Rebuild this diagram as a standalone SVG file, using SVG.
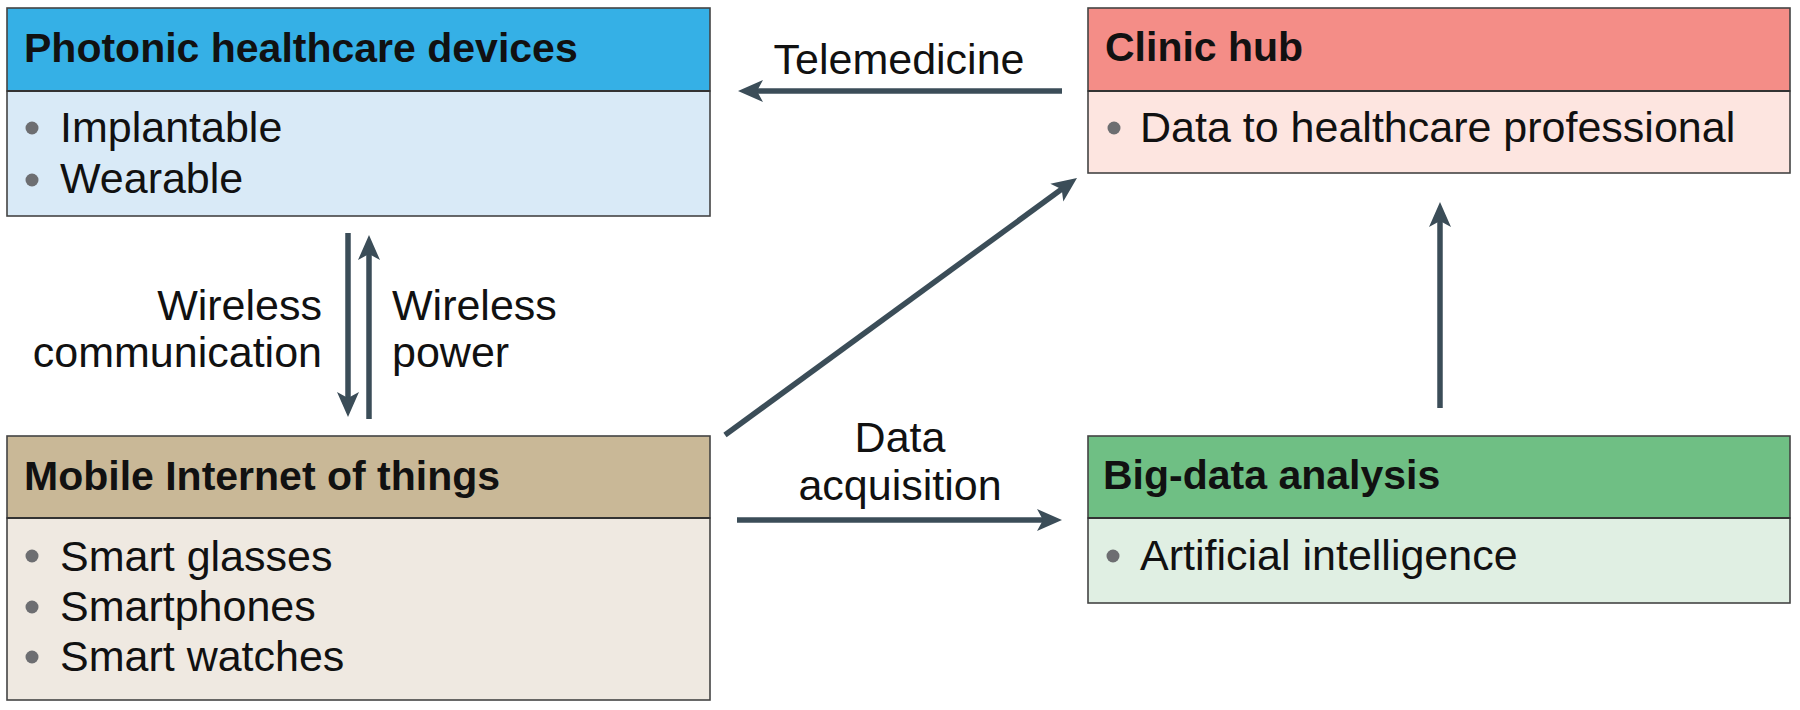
<svg xmlns="http://www.w3.org/2000/svg" width="1800" height="710" viewBox="0 0 1800 710">
<style>
  text { font-family: "Liberation Sans", Arial, sans-serif; fill: #111; }
  .hd { font-size: 41px; font-weight: bold; }
  .bd { font-size: 43px; }
  .lbl { font-size: 43px; }
  .box { stroke: #444; stroke-width: 1.6; }
  .sep { stroke: #333; stroke-width: 2; }
  .dot { fill: #6d6e71; }
  .arr { stroke: #3b4d58; stroke-width: 5.5; fill: none; marker-end: url(#ah); }
</style>
<defs>
  <marker id="ah" markerUnits="userSpaceOnUse" viewBox="-26 -12 27 24" refX="-15" refY="0" markerWidth="27" markerHeight="24" orient="auto">
    <path d="M0,0 L-25,-11 L-19,0 L-25,11 Z" fill="#3b4d58"/>
  </marker>
</defs>
<rect width="1800" height="710" fill="#fff"/>

<g id="photonic">
  <rect class="box" x="7" y="8" width="703" height="83" fill="#35b0e6"/>
  <rect class="box" x="7" y="91" width="703" height="125" fill="#d9eaf7"/>
  <line class="sep" x1="7" y1="91" x2="710" y2="91"/>
  <text class="hd" x="24" y="62">Photonic healthcare devices</text>
  <circle class="dot" cx="32" cy="128" r="6.5"/>
  <text class="bd" x="60" y="142">Implantable</text>
  <circle class="dot" cx="32" cy="180" r="6.5"/>
  <text class="bd" x="60" y="193">Wearable</text>
</g>

<g id="clinic">
  <rect class="box" x="1088" y="8" width="702" height="83" fill="#f48d87"/>
  <rect class="box" x="1088" y="91" width="702" height="82" fill="#fde5e0"/>
  <line class="sep" x1="1088" y1="91" x2="1790" y2="91"/>
  <text class="hd" x="1105" y="61">Clinic hub</text>
  <circle class="dot" cx="1114" cy="128" r="6.5"/>
  <text class="bd" x="1140" y="142">Data to healthcare professional</text>
</g>

<g id="mobile">
  <rect class="box" x="7" y="436" width="703" height="82" fill="#c9b897"/>
  <rect class="box" x="7" y="518" width="703" height="182" fill="#efe9e1"/>
  <line class="sep" x1="7" y1="518" x2="710" y2="518"/>
  <text class="hd" x="24" y="490">Mobile Internet of things</text>
  <circle class="dot" cx="32" cy="556" r="6.5"/>
  <text class="bd" x="60" y="571">Smart glasses</text>
  <circle class="dot" cx="32" cy="607" r="6.5"/>
  <text class="bd" x="60" y="621">Smartphones</text>
  <circle class="dot" cx="32" cy="657" r="6.5"/>
  <text class="bd" x="60" y="671">Smart watches</text>
</g>

<g id="bigdata">
  <rect class="box" x="1088" y="436" width="702" height="82" fill="#6fbf84"/>
  <rect class="box" x="1088" y="518" width="702" height="85" fill="#e0efe3"/>
  <line class="sep" x1="1088" y1="518" x2="1790" y2="518"/>
  <text class="hd" x="1103" y="489">Big-data analysis</text>
  <circle class="dot" cx="1113" cy="556" r="6.5"/>
  <text class="bd" x="1140" y="570">Artificial intelligence</text>
</g>

<g id="connectors">
  <line class="arr" x1="1062" y1="91" x2="753" y2="91"/>
  <line class="arr" x1="348" y1="233" x2="348" y2="402"/>
  <line class="arr" x1="369" y1="419" x2="369" y2="250"/>
  <line class="arr" x1="725" y1="435" x2="1064.9" y2="186.8"/>
  <line class="arr" x1="737" y1="520" x2="1047" y2="520"/>
  <line class="arr" x1="1440" y1="408" x2="1440" y2="217"/>
  <text class="lbl" x="899" y="74" text-anchor="middle">Telemedicine</text>
  <text class="lbl" x="322" y="320" text-anchor="end">Wireless</text>
  <text class="lbl" x="322" y="367" text-anchor="end">communication</text>
  <text class="lbl" x="392" y="320">Wireless</text>
  <text class="lbl" x="392" y="367">power</text>
  <text class="lbl" x="900" y="452" text-anchor="middle">Data</text>
  <text class="lbl" x="900" y="500" text-anchor="middle">acquisition</text>
</g>
</svg>
